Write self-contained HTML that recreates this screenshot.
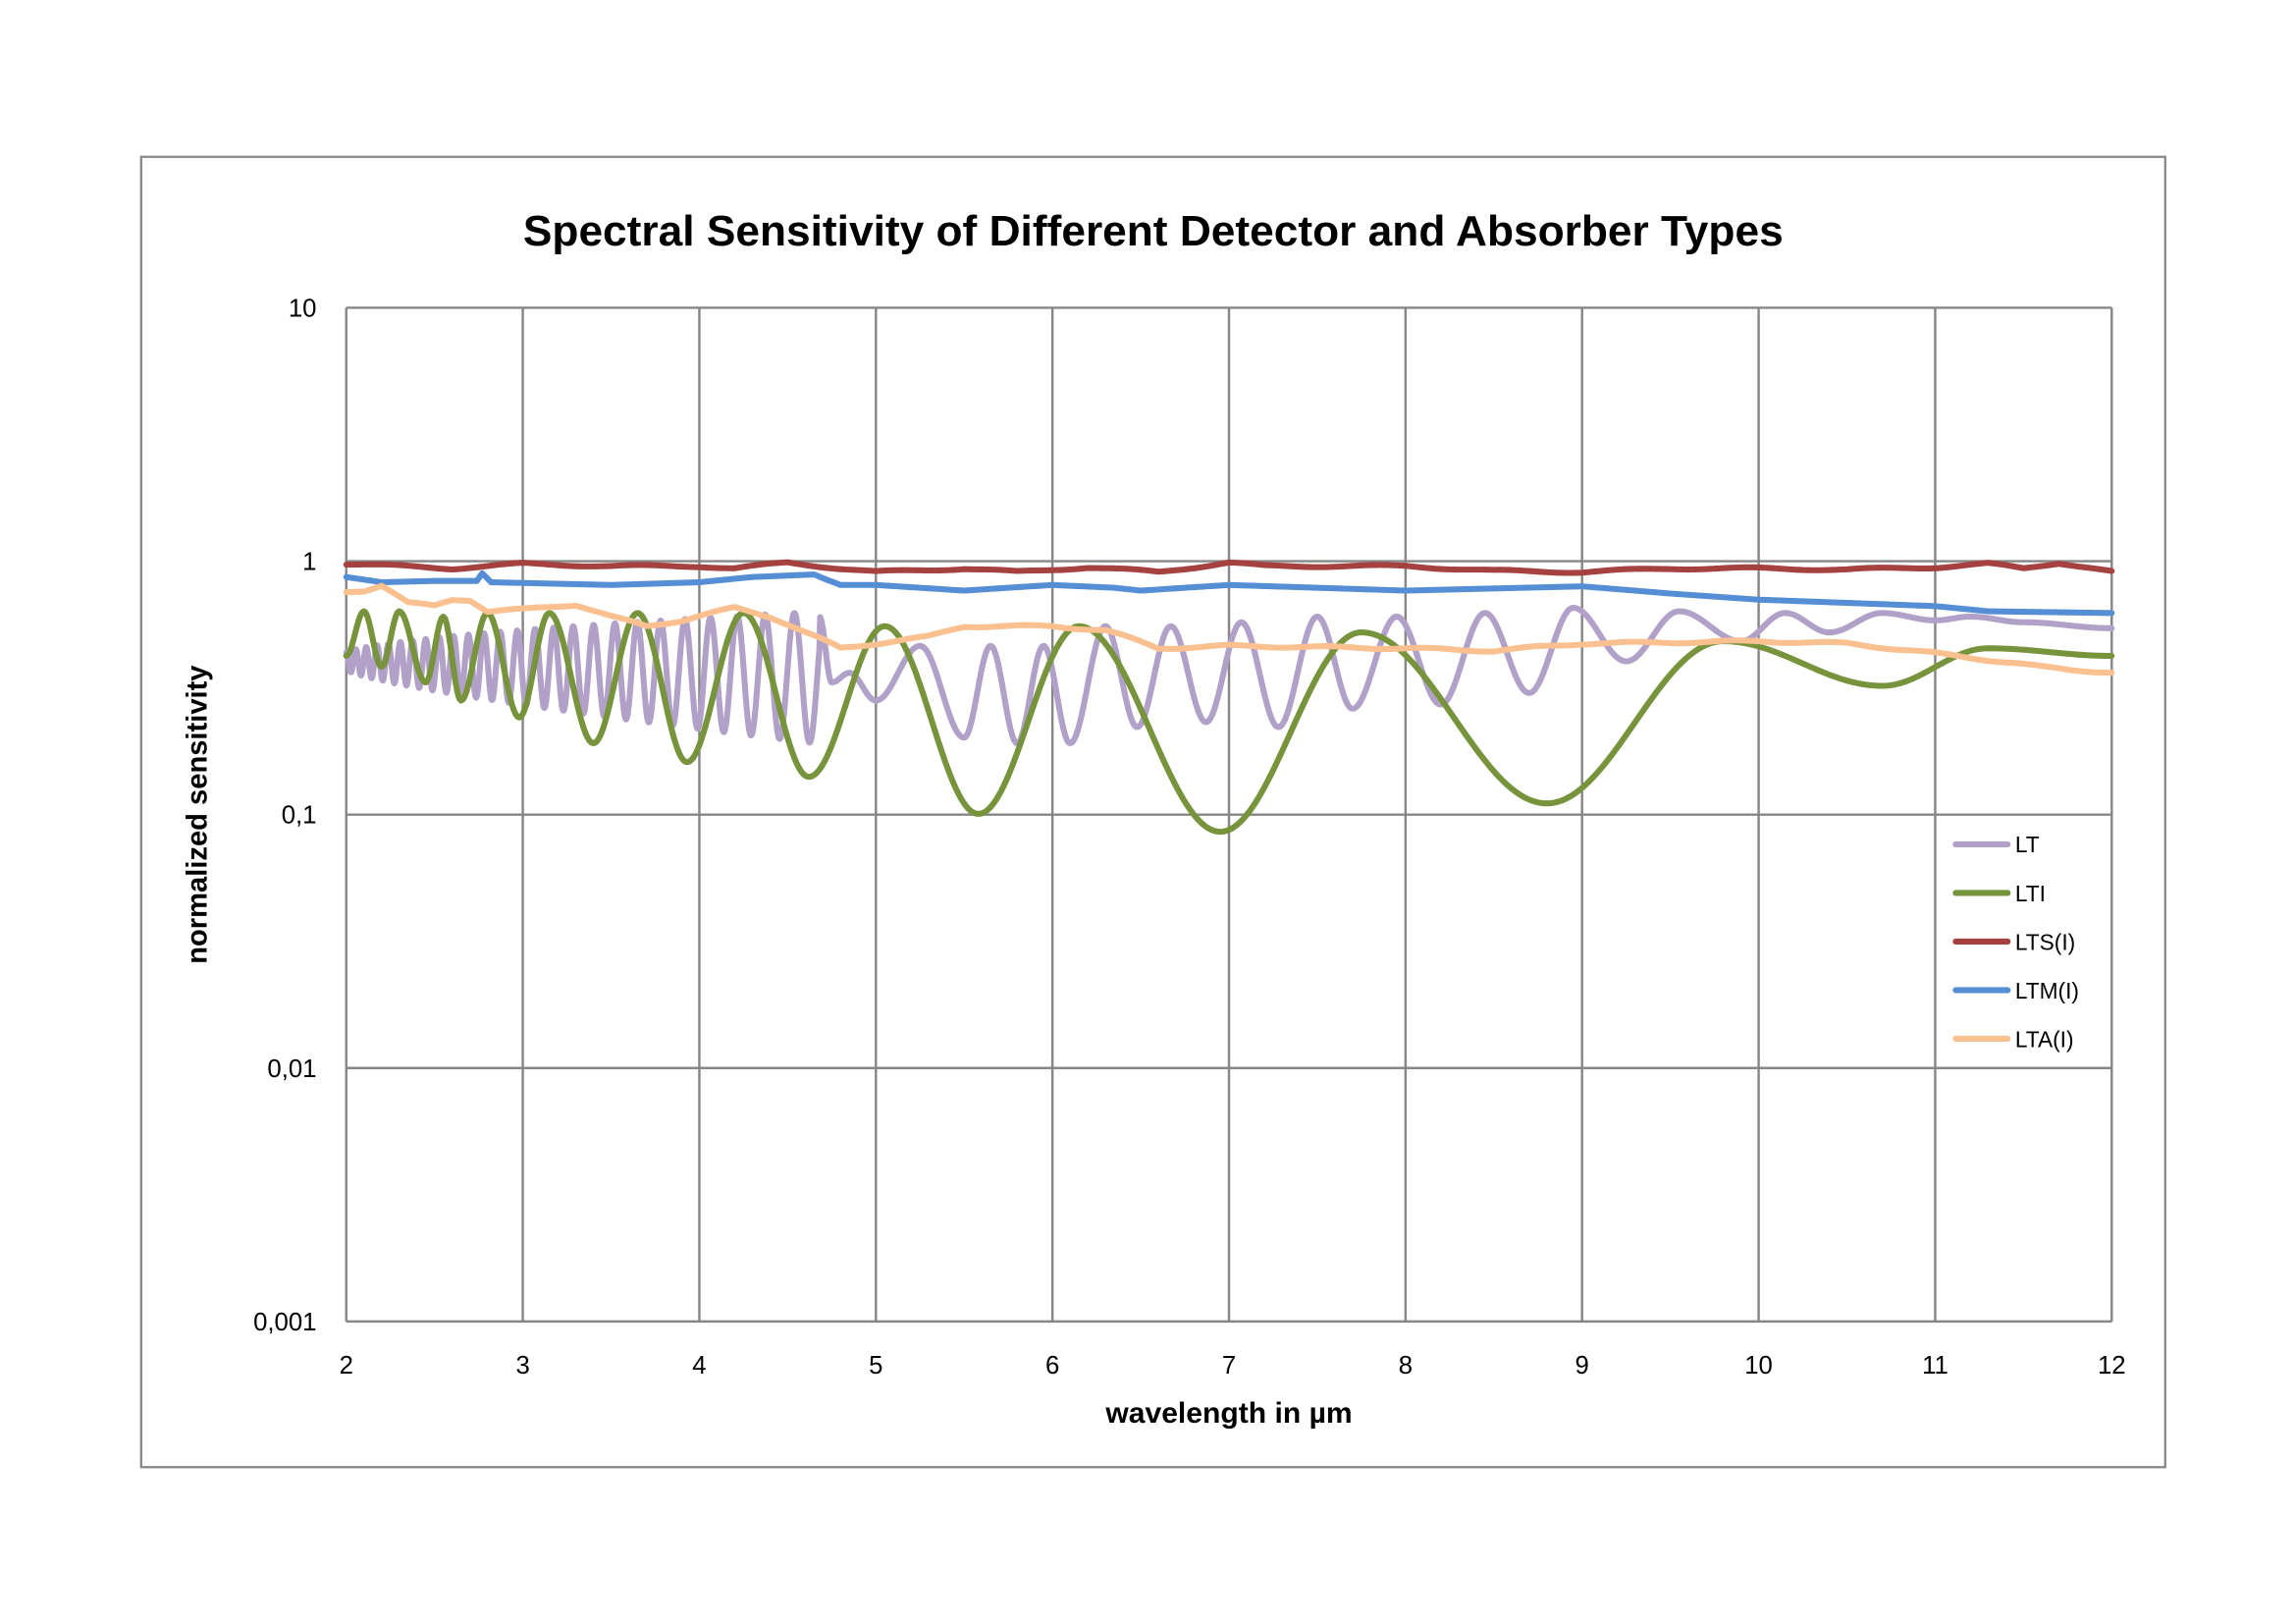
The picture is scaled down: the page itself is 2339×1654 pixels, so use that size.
<!DOCTYPE html>
<html><head><meta charset="utf-8"><style>
html,body{margin:0;padding:0;background:#fff;}
svg{display:block;}
text{font-family:"Liberation Sans",sans-serif;fill:#000;}
</style></head><body>
<svg id="s" width="2339" height="1654" viewBox="0 0 1545 1092.5" xmlns="http://www.w3.org/2000/svg">
<rect x="0" y="0" width="1545" height="1092.5" fill="#fff"/>
<rect x="95" y="105.5" width="1362" height="881.5" fill="none" stroke="#868686" stroke-width="1.5"/>
<text x="776" y="165" text-anchor="middle" font-size="28.5" font-weight="bold" textLength="848" lengthAdjust="spacingAndGlyphs">Spectral Sensitivity of Different Detector and Absorber Types</text>
<g id="grid" stroke="#868686" stroke-width="1.6" fill="none"></g>
<g id="labels" font-size="17"></g>
<text x="827" y="957" text-anchor="middle" font-size="19.5" font-weight="bold" textLength="166" lengthAdjust="spacingAndGlyphs">wavelength in µm</text>
<text transform="translate(139,548) rotate(-90)" text-anchor="middle" font-size="19.5" font-weight="bold" textLength="201" lengthAdjust="spacingAndGlyphs">normalized sensitivity</text>
<g id="curves" fill="none" stroke-width="4" stroke-linejoin="round" stroke-linecap="round"></g>
<g id="legend" font-size="15"></g>
</svg>
<script>
const NS="http://www.w3.org/2000/svg";
const X=w=>233+(w-2)*118.8, Y=v=>377-Math.log10(v)*170.5;
function el(p,t,a,txt){const e=document.createElementNS(NS,t);for(const k in a)e.setAttribute(k,a[k]);if(txt!=null)e.textContent=txt;document.getElementById(p).appendChild(e);return e;}
for(let w=2;w<=12;w++){el("grid","line",{x1:X(w),x2:X(w),y1:207,y2:889});el("labels","text",{x:X(w),y:924,"text-anchor":"middle"},String(w));}
const yl=["10","1","0,1","0,01","0,001"];
for(let i=0;i<5;i++){const y=207+i*170.5;el("grid","line",{x1:233,x2:1421,y1:y,y2:y});el("labels","text",{x:213,y:y+6,"text-anchor":"end"},yl[i]);}
function interp(pts,w){for(let i=0;i<pts.length-1;i++){if(w<=pts[i+1][0]){const[a,b]=[pts[i],pts[i+1]];const t=(w-a[0])/(b[0]-a[0]);return a[1]+(b[1]-a[1])*t;}}return pts[pts.length-1][1];}
function cosint(pts,w){for(let i=0;i<pts.length-1;i++){if(w<=pts[i+1][0]){const[a,b]=[pts[i],pts[i+1]];const t=(w-a[0])/(b[0]-a[0]);const s=(1-Math.cos(Math.PI*t))/2;return Math.exp(Math.log(a[1])+(Math.log(b[1])-Math.log(a[1]))*s);}}return pts[pts.length-1][1];}
function path(f,col,step){let d="";for(let w=2;w<=12.0001;w+=step){d+=(d?"L":"M")+X(w).toFixed(2)+","+Y(f(w)).toFixed(2);}el("curves","path",{d:d,stroke:col});}
const lta=[[2,0.75],[2.1,0.76],[2.2,0.8],[2.35,0.68],[2.5,0.66],[2.6,0.7],[2.7,0.7],[2.8,0.63],[3.0,0.64],[3.3,0.67],[3.5,0.6],[3.7,0.55],[3.9,0.58],[4.2,0.65],[4.4,0.6],[4.6,0.52],[4.8,0.45],[5.0,0.47],[5.3,0.5],[5.5,0.55],[6.0,0.55],[6.3,0.53],[6.6,0.45],[7,0.46],[8,0.45],[8.5,0.44],[9,0.47],[10,0.48],[10.5,0.47],[11,0.43],[11.6,0.38],[12,0.36]];
const ltm=[[2,0.86],[2.2,0.82],[2.5,0.83],[2.74,0.83],[2.77,0.89],[2.82,0.82],[3.5,0.8],[4.0,0.82],[4.3,0.86],[4.65,0.88],[4.72,0.84],[4.8,0.8],[5.0,0.8],[5.5,0.76],[6.0,0.8],[6.35,0.78],[6.5,0.76],[7,0.8],[8,0.76],[9,0.79],[9.5,0.74],[10,0.7],[11,0.66],[11.3,0.63],[12,0.62]];
const lts=[[2,0.97],[2.6,0.93],[3,0.97],[3.5,0.95],[4,0.95],[4.2,0.93],[4.5,0.98],[4.8,0.93],[5.0,0.9],[5.5,0.93],[5.8,0.9],[6.2,0.94],[6.6,0.9],[7,0.98],[7.2,0.95],[8,0.95],[8.5,0.91],[9,0.9],[9.5,0.93],[10,0.93],[10.5,0.92],[11,0.94],[11.3,0.97],[11.5,0.93],[11.7,0.98],[12,0.9]];
const lti=[[2,0.42],[2.1,0.63],[2.2,0.38],[2.3,0.63],[2.45,0.33],[2.55,0.6],[2.65,0.28],[2.8,0.62],[2.98,0.24],[3.15,0.62],[3.4,0.19],[3.65,0.62],[3.93,0.16],[4.25,0.62],[4.62,0.14],[5.05,0.55],[5.58,0.1],[6.15,0.55],[6.95,0.085],[7.75,0.52],[8.8,0.11],[9.8,0.48],[10.7,0.32],[11.3,0.45],[12,0.42]];
const ltTail=[[4.68,0.6],[4.75,0.33],[4.85,0.36],[5.0,0.28],[5.25,0.46],[5.5,0.2],[5.65,0.46],[5.8,0.19],[5.95,0.46],[6.1,0.19],[6.3,0.55],[6.48,0.22],[6.67,0.55],[6.87,0.23],[7.07,0.57],[7.28,0.22],[7.5,0.6],[7.7,0.26],[7.95,0.6],[8.2,0.27],[8.45,0.62],[8.7,0.3],[8.95,0.65],[9.25,0.4],[9.55,0.63],[9.9,0.48],[10.15,0.62],[10.4,0.52],[10.7,0.62],[11.0,0.58],[11.2,0.6],[11.5,0.57],[12,0.54]];
function lt(w){
 if(w>=4.68)return cosint(ltTail,w);
 let ph=0,dw=0.002;for(let u=2;u<w;u+=dw){ph+=dw/(0.055+0.045*(u-2));}
 const t=(w-2)/2.68;
 const center=Math.log(0.4)-0.15*t; const amp=0.08+0.52*Math.pow(t,0.7);
 return Math.exp(center+amp*Math.cos(2*Math.PI*ph));
}
path(lt,"#b1a0c7",0.004);
path(w=>cosint(lti,w),"#77933c",0.01);
path(w=>interp(lts,w)*(1+0.01*Math.sin(w*9)),"#a5423f",0.02);
path(w=>interp(ltm,w),"#558ed5",0.01);
path(w=>interp(lta,w)*(1+0.01*Math.sin(w*11)),"#fac090",0.01);
const lg=[["LT","#b1a0c7"],["LTI","#77933c"],["LTS(I)","#a5423f"],["LTM(I)","#558ed5"],["LTA(I)","#fac090"]];
lg.forEach((l,i)=>{const y=568+i*32.7;el("legend","line",{x1:1316,x2:1351,y1:y,y2:y,stroke:l[1],"stroke-width":4,"stroke-linecap":"round"});el("legend","text",{x:1356,y:y+5.5},l[0]);});
</script>
</body></html>
